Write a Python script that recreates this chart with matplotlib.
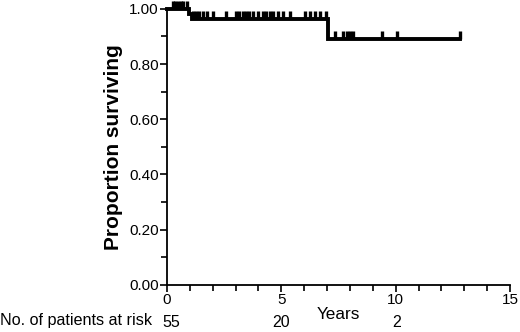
import matplotlib
matplotlib.use("Agg")
import matplotlib.pyplot as plt
import numpy as np

plt.rcParams['font.family'] = ['Liberation Sans', 'DejaVu Sans']

# Kaplan-Meier step data
step_times = [0.0, 0.95, 1.08, 7.02, 12.8]
step_surv = [1.0, 0.982, 0.964, 0.889, 0.889]

censor_times_1 = [0.25, 0.35, 0.48, 0.6, 0.7, 0.87]
censor_times_2 = [1.15, 1.27, 1.41, 1.56, 1.73, 2.02, 2.58, 3.01, 3.16, 3.31, 3.45,
                  3.6, 3.77, 3.99, 4.2, 4.35, 4.5, 4.64, 4.86, 5.08, 5.37, 6.03,
                  6.24, 6.46, 6.68, 6.97]
censor_times_3 = [7.34, 7.7, 7.85, 7.99, 8.14, 9.38, 10.06, 12.8]

risk_times = [0.2, 5, 10.06]
risk_counts = ["55", "20", "2"]

fig = plt.figure(figsize=(5.2, 3.32), dpi=100)
ax = fig.add_axes([0.321, 0.1416, 0.66, 0.832])

ax.step(step_times, step_surv, where='post', color='black', lw=2.8, clip_on=False,
        solid_joinstyle='miter')

def level_at(t):
    s = step_surv[0]
    for tt, ss in zip(step_times, step_surv):
        if t >= tt:
            s = ss
    return s

all_c = censor_times_1 + censor_times_2 + censor_times_3
ax.plot(all_c, [level_at(t) for t in all_c], linestyle='none', marker=2,
        markersize=5.5, mew=2.4, color='black', clip_on=False)

ax.set_xlim(0, 15)
ax.set_ylim(0, 1.0)
ax.set_xticks([0, 5, 10, 15])
ax.set_xticks(np.arange(0, 16, 1), minor=True)
ax.set_yticks(np.arange(0, 1.01, 0.2))
ax.set_yticks(np.arange(0, 1.01, 0.1), minor=True)
ax.set_yticklabels([f"{v:.2f}" for v in np.arange(0, 1.01, 0.2)])
ax.tick_params(axis='both', which='major', length=5, width=1.2, labelsize=11,
               direction='out', pad=1)
ax.tick_params(axis='both', which='minor', length=4, width=1.2, direction='out')
for s in ['top', 'right']:
    ax.spines[s].set_visible(False)
for s in ['left', 'bottom']:
    ax.spines[s].set_linewidth(1.3)

ax.set_ylabel("Proportion surviving", fontsize=15, fontweight='bold', labelpad=4)

ax.text(7.5, -0.078, "Years", ha='center', va='top', fontsize=12.3, clip_on=False)

for t, c in zip(risk_times, risk_counts):
    ax.text(t, -0.108, c, ha='center', va='top', fontsize=11.5, clip_on=False)
fig.text(0.0, (332 - 321) / 332, "No. of patients at risk", ha='left', va='center',
         fontsize=11.6)

fig.savefig("out.png", dpi=100)
